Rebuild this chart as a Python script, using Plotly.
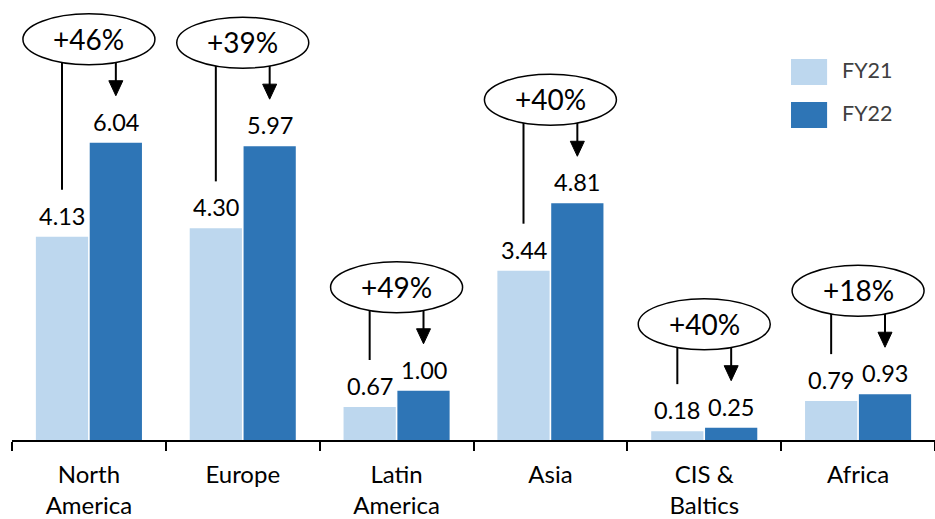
import plotly.graph_objects as go

categories = ["North<br>America", "Europe", "Latin<br>America", "Asia", "CIS &<br>Baltics", "Africa"]
fy21 = [4.13, 4.30, 0.67, 3.44, 0.18, 0.79]
fy22 = [6.04, 5.97, 1.00, 4.81, 0.25, 0.93]
growth = ["+46%", "+39%", "+49%", "+40%", "+40%", "+18%"]
series_names = ["FY21", "FY22"]
colors = ["#BDD7EE", "#2E75B6"]

FONT = "Lato, 'Open Sans', sans-serif"
W, H = 935, 519
MT, MB, ML, MR = 0, 79, 12, 0
PLOT_H = H - MT - MB
YMAX = 8.94
PPU = PLOT_H / YMAX  # pixels per unit
OFF = 0.175  # half distance between bar centres in category units

fig = go.Figure()
for name, vals, col in zip(series_names, [fy21, fy22], colors):
    fig.add_trace(go.Bar(x=categories, y=vals, name=name, marker_color=col,
                         marker_line_width=0, showlegend=False))

shapes = []
annotations = []
for i, (a, b, g) in enumerate(zip(fy21, fy22, growth)):
    # value labels
    for xv, v in [(i - OFF, a), (i + OFF, b)]:
        annotations.append(dict(x=xv, y=v, xref="x", yref="y", text=f"{v:.2f}",
                                showarrow=False, yanchor="middle", yshift=21,
                                font=dict(family=FONT, size=23.5, color="#000")))
    ell_c = b + 103.5 / PPU
    # left line from ellipse down to FY21 label
    shapes.append(dict(type="line", xref="x", yref="y", x0=i - OFF, x1=i - OFF,
                       y0=ell_c, y1=a + 47 / PPU, line=dict(color="#000", width=2)))
    # arrow line
    shapes.append(dict(type="line", xref="x", yref="y", x0=i + OFF, x1=i + OFF,
                       y0=ell_c, y1=b + 60 / PPU, line=dict(color="#000", width=2)))
    # arrow head
    shapes.append(dict(type="path", xref="x", yref="y", xsizemode="pixel", ysizemode="pixel",
                       xanchor=i + OFF, yanchor=b,
                       path="M -7,62 L 7,62 L 0,47 Z",
                       fillcolor="#000", line=dict(color="#000", width=1)))
    # ellipse
    shapes.append(dict(type="circle", xref="x", yref="y", xsizemode="pixel", ysizemode="pixel",
                       xanchor=i, yanchor=b, x0=-66, x1=66, y0=78, y1=129,
                       fillcolor="white", line=dict(color="#000", width=1.5)))
    annotations.append(dict(x=i, y=b, xref="x", yref="y", text=g, showarrow=False,
                            yanchor="middle", yshift=104,
                            font=dict(family=FONT, size=28, color="#000")))

# custom legend
leg = [(0.866, 0.807, 0.841), (0.768, 0.709, 0.743)]
for (y1, y0, yt), name, col in zip(leg, series_names, colors):
    shapes.append(dict(type="rect", xref="paper", yref="paper", x0=0.844, x1=0.8831,
                       y0=y0, y1=y1, fillcolor=col, line=dict(width=0)))
    annotations.append(dict(x=0.897, y=yt, xref="paper", yref="paper", text=name,
                            showarrow=False, xanchor="left", yanchor="middle",
                            font=dict(family=FONT, size=21.5, color="#404040")))

fig.update_layout(
    width=W, height=H, margin=dict(t=MT, b=MB, l=ML, r=MR),
    paper_bgcolor="white", plot_bgcolor="white",
    barmode="group", bargap=0.30, bargroupgap=0.03,
    shapes=shapes, annotations=annotations,
    font=dict(family=FONT, size=24, color="#000"),
)
fig.update_xaxes(showline=True, linecolor="#000", linewidth=1.5, ticks="outside",
                 tickson="boundaries", ticklen=9, tickwidth=1.5, tickcolor="#000",
                 tickfont=dict(family=FONT, size=24, color="#000"), showgrid=False,
                 ticklabelstandoff=12, automargin=False)
fig.update_yaxes(visible=False, range=[0, YMAX], showgrid=False, zeroline=False,
                 automargin=False)

fig.write_html("out.html")
